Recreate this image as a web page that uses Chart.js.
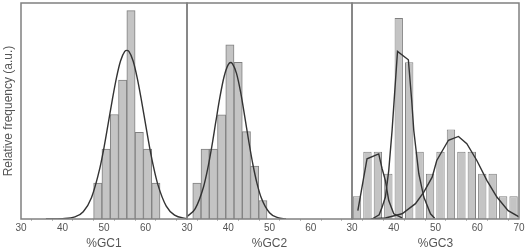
<!DOCTYPE html>
<html>
<head>
<meta charset="utf-8">
<script src="https://cdn.jsdelivr.net/npm/chart.js@4/dist/chart.umd.min.js"></script>
<style>
  body { margin: 0; background: #fff; overflow: hidden; }
  .painel { position: absolute; top: 0; height: 251px; }
</style>
</head>
<body>
<div class="painel" style="left:0;width:199px"><canvas id="g1"></canvas></div>
<div class="painel" style="left:175px;width:189px"><canvas id="g2"></canvas></div>
<div class="painel" style="left:340px;width:191px"><canvas id="g3"></canvas></div>
<script>
// %GC1 - histograma + ajuste
const gc1Centros = [48.5, 50.5, 52.5, 54.5, 56.5, 58.5, 60.5, 62.5];
const gc1Freq = [1.03, 2.01, 3.0, 3.99, 5.98, 2.49, 2.01, 1.03];
const gc1AjusteX = [36, 40, 43, 45, 47, 49, 50, 51, 52, 53, 54, 55, 55.5, 56, 57, 58, 59, 60, 61, 62, 63, 65, 67, 70];
const gc1AjusteY = [0, 0.01, 0.06, 0.21, 0.62, 1.46, 2.05, 2.73, 3.42, 4.05, 4.54, 4.81, 4.84, 4.81, 4.54, 4.05, 3.42, 2.73, 2.05, 1.46, 0.98, 0.37, 0.11, 0.01];

// %GC2
const gc2Centros = [32.4, 34.4, 36.4, 38.4, 40.4, 42.4, 44.4, 46.4, 48.4];
const gc2Freq = [1.03, 2.01, 2.01, 2.99, 5.0, 4.5, 2.51, 1.52, 0.53];
const gc2AjusteX = [30, 32, 34, 35, 36, 37, 38, 39, 40, 40.6, 41, 42, 43, 44, 45, 46, 47, 48, 50, 52, 54];
const gc2AjusteY = [0.07, 0.3, 0.92, 1.43, 2.07, 2.8, 3.51, 4.09, 4.43, 4.49, 4.46, 4.18, 3.64, 2.94, 2.21, 1.55, 1.01, 0.61, 0.18, 0.04, 0];

// %GC3 - tres componentes
const gc3Centros = [31.2, 33.7, 36.2, 38.7, 41.2, 43.7, 46.2, 48.7, 51.2, 53.7, 56.2, 58.7, 61.2, 63.7, 66.2, 68.7];
const gc3Freq = [0.65, 1.93, 1.93, 1.3, 5.77, 4.5, 1.93, 1.3, 1.93, 2.57, 1.93, 1.93, 1.3, 1.3, 0.65, 0.65];
const gc3aX = [31.4, 33.6, 36.4, 37.2, 38.0, 38.8, 40.0, 42.0];
const gc3aY = [0.24, 1.73, 1.87, 1.45, 1.1, 0.53, 0.15, 0.03];
const gc3bX = [34.8, 36.5, 37.2, 38.0, 38.8, 39.6, 40.9, 43.5, 44.3, 44.8, 46.0, 47.2, 48.8, 49.8];
const gc3bY = [0, 0.12, 0.34, 0.63, 1.39, 2.54, 4.81, 4.57, 3.4, 2.54, 1.3, 0.63, 0.15, 0.02];
const gc3cX = [34.5, 38.0, 42.0, 45.2, 47.2, 49.2, 50.3, 53.1, 55.5, 57.5, 59.9, 62.3, 64.7, 67.4, 70.0];
const gc3cY = [0, 0.03, 0.15, 0.44, 0.77, 1.2, 1.68, 2.26, 2.37, 2.16, 1.68, 1.11, 0.63, 0.24, 0.06];

const fonte = "'Liberation Sans', Arial, sans-serif";

function pares(xs, ys) {
  return xs.map((x, i) => ({ x: x, y: ys[i] }));
}

function curva(xs, ys, suave) {
  return {
    type: 'line',
    data: pares(xs, ys),
    borderColor: '#333',
    borderWidth: 1.4,
    pointRadius: 0,
    fill: false,
    cubicInterpolationMode: suave ? 'monotone' : 'default',
    tension: 0,
    order: 0
  };
}

// moldura em volta da area do grafico
const moldura = {
  id: 'moldura',
  afterDatasetsDraw(chart) {
    const a = chart.chartArea;
    const ctx = chart.ctx;
    ctx.save();
    ctx.strokeStyle = '#808080';
    ctx.lineWidth = 1.5;
    ctx.strokeRect(a.left, a.top, a.right - a.left, a.bottom - a.top);
    ctx.restore();
  }
};

function desenharPainel(id, centros, freq, curvas, titulo, largEsq, mostra70, barPct, tituloY) {
  const ctx = document.getElementById(id).getContext('2d');
  new Chart(ctx, {
    type: 'bar',
    data: {
      datasets: [
        {
          type: 'bar',
          data: pares(centros, freq),
          backgroundColor: '#c4c4c4',
          borderColor: '#808080',
          borderWidth: 1,
          barPercentage: barPct,
          categoryPercentage: 1,
          order: 1
        }
      ].concat(curvas)
    },
    options: {
      responsive: true,
      maintainAspectRatio: false,
      animation: false,
      layout: { padding: { top: 3, bottom: 0, left: 0, right: 0 } },
      plugins: { legend: { display: false }, tooltip: { enabled: false } },
      scales: {
        x: {
          type: 'linear',
          offset: false,
          min: 30,
          max: 70,
          grid: { display: true, drawOnChartArea: false, drawTicks: true, tickLength: 2, color: '#bbb' },
          border: { display: false },
          ticks: {
            stepSize: 5,
            autoSkip: false,
            maxRotation: 0,
            padding: 1,
            color: '#555',
            font: { family: fonte, size: 10 },
            callback: (v) => (v % 10 === 0 && (v !== 70 || mostra70)) ? String(v) : ''
          },
          title: {
            display: true,
            text: titulo,
            color: '#555',
            font: { family: fonte, size: 12 },
            padding: { top: 0, bottom: 0 }
          },
          afterFit: (s) => { s.height = 32; }
        },
        y: {
          min: 0,
          max: 6.2,
          grid: { display: false },
          border: { display: false },
          ticks: { display: false },
          title: {
            display: !!tituloY,
            text: tituloY || '',
            color: '#555',
            font: { family: fonte, size: 12 },
            padding: { top: 1, bottom: 0 }
          },
          afterFit: (s) => { s.width = largEsq; }
        },
        yDir: {
          position: 'right',
          grid: { display: false },
          border: { display: false },
          ticks: { display: false },
          afterFit: (s) => { s.width = 12; }
        }
      }
    },
    plugins: [moldura]
  });
}

desenharPainel('g1', gc1Centros, gc1Freq, [curva(gc1AjusteX, gc1AjusteY, true)],
  '%GC1', 21, false, 1, 'Relative frequency (a.u.)');
desenharPainel('g2', gc2Centros, gc2Freq, [curva(gc2AjusteX, gc2AjusteY, true)],
  '%GC2', 12, false, 1, null);
desenharPainel('g3', gc3Centros, gc3Freq,
  [curva(gc3aX, gc3aY, false), curva(gc3bX, gc3bY, false), curva(gc3cX, gc3cY, false)],
  '%GC3', 12, true, 0.8, null);
</script>
</body>
</html>
